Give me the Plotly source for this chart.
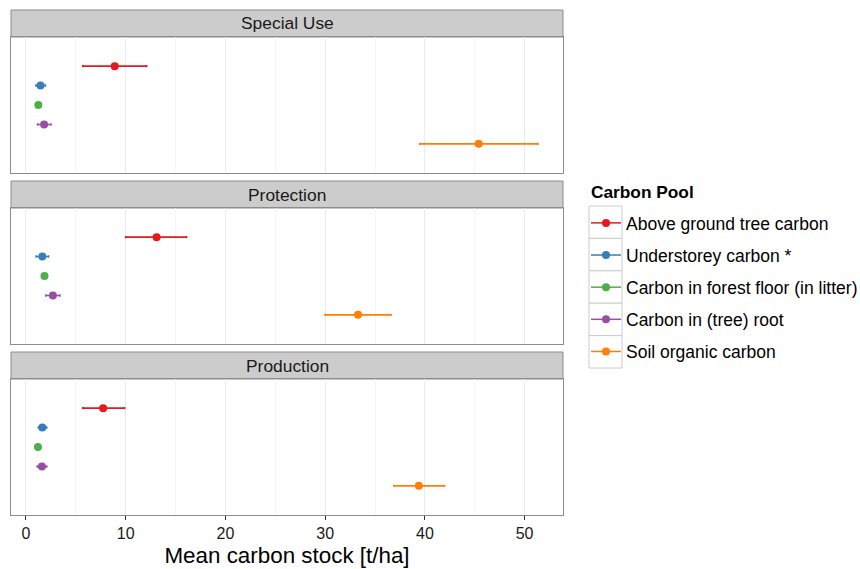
import plotly.graph_objects as go

# Carbon pools (top to bottom within each panel) and their colours
pools = [
    "Above ground tree carbon",
    "Understorey carbon *",
    "Carbon in forest floor (in litter)",
    "Carbon in (tree) root",
    "Soil organic carbon",
]
pool_colors = ["#E41A1C", "#377EB8", "#4DAF4A", "#984EA3", "#FF7F00"]

forest_types = ["Special Use", "Protection", "Production"]

# Mean carbon stock [t/ha] with lower / upper interval bounds
special_use_mean = [8.9, 1.46, 1.24, 1.82, 45.4]
special_use_low = [5.7, 1.0, 1.15, 1.17, 39.5]
special_use_high = [12.1, 1.95, 1.33, 2.5, 51.35]

protection_mean = [13.1, 1.64, 1.86, 2.7, 33.3]
protection_low = [10.0, 1.02, 1.77, 2.0, 30.0]
protection_high = [16.1, 2.26, 1.95, 3.4, 36.6]

production_mean = [7.74, 1.64, 1.2, 1.6, 39.4]
production_low = [5.69, 1.24, 1.12, 1.13, 36.9]
production_high = [9.89, 2.08, 1.28, 2.08, 41.97]

means = [special_use_mean, protection_mean, production_mean]
lows = [special_use_low, protection_low, production_low]
highs = [special_use_high, protection_high, production_high]

x_ticks = [0, 10, 20, 30, 40, 50]

W, H = 860, 569
FONT = "Liberation Sans, Arial, sans-serif"

# panel geometry in pixels (top, bottom), strips sit right above each panel
panel_left, panel_right = 11, 563
panels_px = [(37, 173), (208, 344), (379, 515)]
strip_h = 27


def px_x(v):
    return v / W


def px_y(v):
    return 1 - v / H


fig = go.Figure()

for p, ftype in enumerate(forest_types):
    ax = "" if p == 0 else str(p + 1)
    for i, pool in enumerate(pools):
        m = means[p][i]
        fig.add_trace(go.Scatter(
            x=[m],
            y=[pool],
            mode="lines+markers",
            name=pool,
            legendgroup=pool,
            showlegend=(p == 0),
            marker=dict(color=pool_colors[i], size=8),
            line=dict(color=pool_colors[i], width=1.5),
            error_x=dict(
                type="data",
                symmetric=False,
                array=[highs[p][i] - m],
                arrayminus=[m - lows[p][i]],
                color=pool_colors[i],
                thickness=1.6,
                width=1.2,
            ),
            xaxis="x" + ax,
            yaxis="y" + ax,
            hovertemplate=ftype + "<br>" + pool + ": %{x:.1f} t/ha<extra></extra>",
        ))

layout = dict(
    width=W,
    height=H,
    margin=dict(l=0, r=0, t=0, b=0, autoexpand=False),
    paper_bgcolor="white",
    plot_bgcolor="white",
    font=dict(family=FONT, size=15, color="#1A1A1A"),
    showlegend=True,
    legend=dict(
        x=px_x(586),
        y=px_y(205),
        xanchor="left",
        yanchor="top",
        bgcolor="rgba(0,0,0,0)",
        font=dict(size=17.5, color="#000000"),
        traceorder="grouped",
        tracegroupgap=6.4,
        itemwidth=30,
    ),
)

shapes = []
annotations = []

for p, ftype in enumerate(forest_types):
    ax = "" if p == 0 else str(p + 1)
    top, bottom = panels_px[p]
    is_bottom = p == len(forest_types) - 1
    layout["xaxis" + ax] = dict(
        domain=[px_x(panel_left), px_x(panel_right)],
        anchor="y" + ax,
        range=[-1.5, 53.85],
        tickmode="array",
        tickvals=x_ticks,
        ticktext=[str(t) for t in x_ticks],
        showticklabels=is_bottom,
        ticks="outside" if is_bottom else "",
        ticklen=4,
        tickwidth=1.2,
        tickcolor="#333333",
        tickfont=dict(size=16, color="#1A1A1A"),
        showgrid=True,
        gridcolor="#EBEBEB",
        gridwidth=1,
        minor=dict(dtick=10, tick0=5, showgrid=True, gridcolor="#F5F5F5", gridwidth=1),
        showline=True,
        mirror=True,
        linecolor="#8C8C8C",
        linewidth=1,
        zeroline=False,
        automargin=False,
        fixedrange=True,
    )
    if is_bottom:
        layout["xaxis" + ax]["title"] = dict(
            text="Mean carbon stock [t/ha]",
            font=dict(size=22.4, color="#000000"),
            standoff=6,
        )
    layout["yaxis" + ax] = dict(
        domain=[px_y(bottom), px_y(top)],
        anchor="x" + ax,
        type="category",
        categoryorder="array",
        categoryarray=pools[::-1],
        range=[-1.5, 5.5],
        showticklabels=False,
        ticks="",
        showgrid=False,
        showline=True,
        mirror=True,
        linecolor="#8C8C8C",
        linewidth=1,
        zeroline=False,
        automargin=False,
        fixedrange=True,
    )
    # facet strip
    shapes.append(dict(
        type="rect", xref="paper", yref="paper",
        x0=px_x(panel_left), x1=px_x(panel_right),
        y0=px_y(top), y1=px_y(top - strip_h),
        fillcolor="#CCCCCC", line=dict(color="#8C8C8C", width=1), layer="below",
    ))
    annotations.append(dict(
        text=ftype, xref="paper", yref="paper",
        x=px_x((panel_left + panel_right) / 2), y=px_y(top - strip_h / 2),
        xanchor="center", yanchor="middle", showarrow=False,
        font=dict(size=17.4, color="#1A1A1A"),
    ))

# legend key boxes
key_top = 206
key_h = 32.4
for i in range(len(pools)):
    shapes.append(dict(
        type="rect", xref="paper", yref="paper",
        x0=px_x(589), x1=px_x(622),
        y0=px_y(key_top + (i + 1) * key_h), y1=px_y(key_top + i * key_h),
        fillcolor="white", line=dict(color="#CCCCCC", width=1), layer="below",
    ))

annotations.append(dict(
    text="<b>Carbon Pool</b>", xref="paper", yref="paper",
    x=px_x(589), y=px_y(192), xanchor="left", yanchor="middle",
    showarrow=False, font=dict(size=17.3, color="#000000"),
))

layout["shapes"] = shapes
layout["annotations"] = annotations
fig.update_layout(**layout)

fig.write_html("out.html")
